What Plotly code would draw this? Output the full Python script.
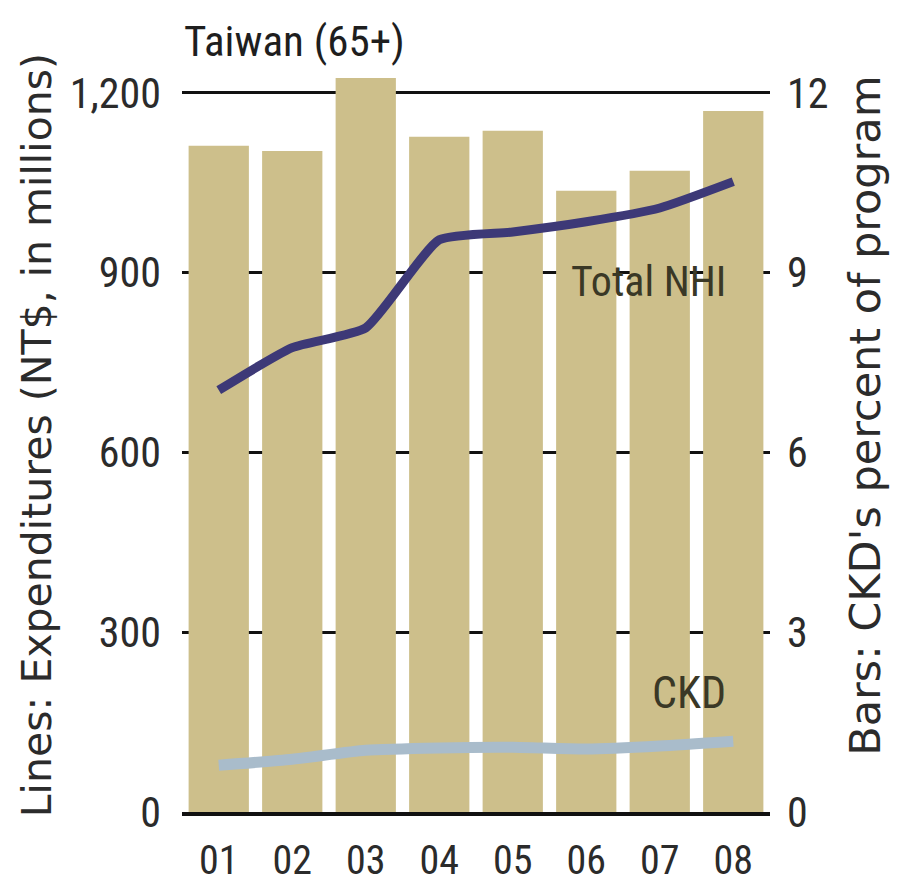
import plotly.graph_objects as go

years = ["01", "02", "03", "04", "05", "06", "07", "08"]
ckd_percent = [11.12, 11.03, 12.25, 11.27, 11.37, 10.37, 10.70, 11.70]
total_nhi = [704, 775, 808, 955, 968, 985, 1008, 1052]
ckd_exp = [78, 88, 103, 107, 108, 105, 110, 118]
left_ticks = [0, 300, 600, 900, 1200]
left_labels = ["0", "300", "600", "900", "1,200"]
right_ticks = [0, 3, 6, 9, 12]

FONT = "Roboto Condensed, Liberation Sans Narrow, Arial Narrow, sans-serif"
WIDE = "DejaVu Sans, Liberation Sans, sans-serif"
TXT = "#2b2b2b"

fig = go.Figure()
fig.add_trace(go.Bar(x=years, y=ckd_percent, marker=dict(color="#cdbf8b", line=dict(width=0)),
                     yaxis="y", showlegend=False))
fig.add_trace(go.Scatter(x=years, y=ckd_exp, mode="lines", yaxis="y2",
                         line=dict(color="#a9bccb", width=11, shape="spline", smoothing=0.6),
                         showlegend=False))
fig.add_trace(go.Scatter(x=years, y=total_nhi, mode="lines", yaxis="y2",
                         line=dict(color="#3d3977", width=9, shape="spline", smoothing=0.5),
                         showlegend=False))

fig.update_layout(
    width=903, height=895,
    margin=dict(l=174, r=141, t=55, b=91),
    plot_bgcolor="white", paper_bgcolor="white",
    font=dict(family=FONT, size=42, color=TXT),
    bargap=0.18,
    xaxis=dict(type="category", showgrid=False, showline=True, linecolor="#111111", linewidth=4,
               ticks="", ticklabelstandoff=10, tickfont=dict(size=40), automargin=False),
    yaxis=dict(side="right", range=[0, 12.5], tickvals=right_ticks, showgrid=True,
               gridcolor="#111111", gridwidth=3, zeroline=False, showline=False, ticks="",
               ticklabelstandoff=16, tickfont=dict(size=42), automargin=False),
    yaxis2=dict(side="left", overlaying="y", range=[0, 1250], tickvals=left_ticks,
                ticktext=left_labels, showgrid=False, zeroline=False, showline=False, ticks="",
                ticklabelstandoff=20, tickfont=dict(size=42), automargin=False),
    annotations=[
        dict(text="Taiwan (65+)", xref="paper", yref="paper", x=0, y=1.029, xanchor="left",
             yanchor="middle", showarrow=False, font=dict(size=43, color="#1e1e1e")),
        dict(text="Lines: Expenditures (NT$, in millions)", xref="paper", yref="paper",
             x=-0.2466, y=0.503, xanchor="center", yanchor="middle", textangle=-90,
             showarrow=False, font=dict(family=WIDE, size=41, color=TXT)),
        dict(text="Bars: CKD's percent of program", xref="paper", yref="paper",
             x=1.1616, y=0.529, xanchor="center", yanchor="middle", textangle=-90,
             showarrow=False, font=dict(family=WIDE, size=43, color=TXT)),
        dict(text="Total NHI", xref="x", yref="y2", x=6.93, y=885, xanchor="right", yanchor="middle",
             showarrow=False, font=dict(size=42, color="#3a3826")),
        dict(text="CKD", xref="x", yref="y2", x=6.93, y=199, xanchor="right", yanchor="middle",
             showarrow=False, font=dict(size=44, color="#3a3826")),
    ],
)

fig.write_html("out.html")
